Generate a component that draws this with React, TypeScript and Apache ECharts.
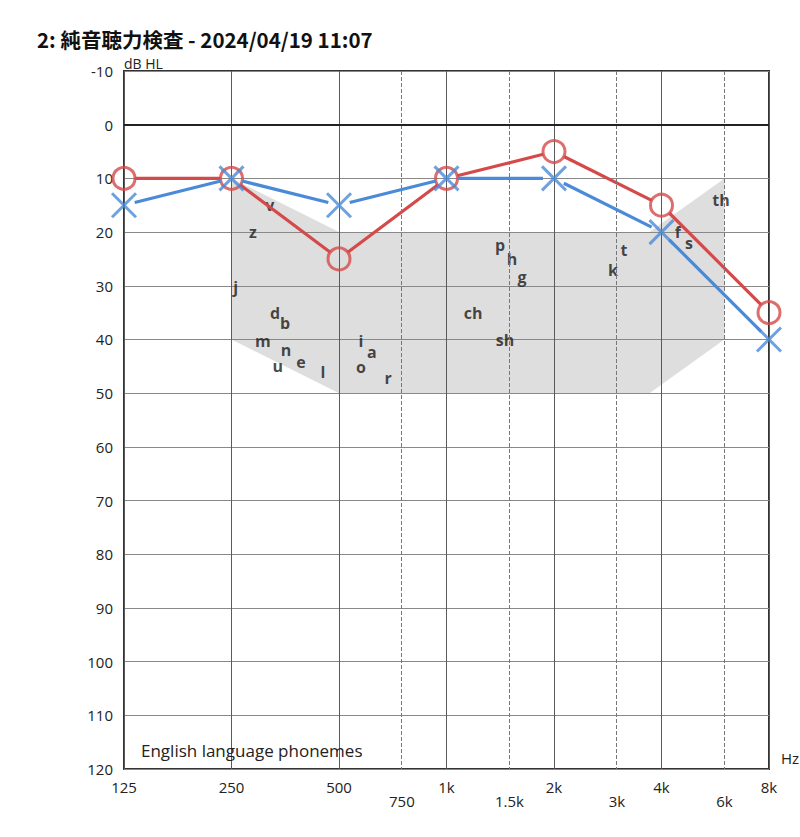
import React, { useEffect, useRef } from "react";
import * as echarts from "echarts";

const titleText = "2: 純音聴力検査 - 2024/04/19 11:07";
const freqs = [125, 250, 500, 1000, 2000, 4000, 8000];
const freqLabels = ["125", "250", "500", "1k", "2k", "4k", "8k"];
const midFreqs = [750, 1500, 3000, 6000];
const midLabels = ["750", "1.5k", "3k", "6k"];
const rightEar = [10, 10, 25, 10, 5, 15, 35];
const leftEar = [15, 10, 15, 10, 10, 20, 40];

const bananaFreqs = [250, 500, 3700, 6000, 6000, 3700, 500, 250];
const bananaDb = [10, 20, 20, 10, 40, 50, 50, 40];

const phonemes = ["v", "z", "j", "d", "b", "m", "n", "u", "e", "l", "i", "a", "o", "r", "ch", "p", "h", "g", "sh", "t", "k", "f", "s", "th"];
const phonemeFreqs = [320, 287, 257, 331, 353, 306, 355, 337, 391, 451, 576, 618, 576, 686, 1187, 1412, 1525, 1627, 1458, 3141, 2927, 4446, 4776, 5871];
const phonemeDb = [15, 20, 30.3, 35.1, 37, 40.3, 41.9, 45.0, 44.2, 46.1, 40.3, 42.4, 45.2, 47.2, 35.1, 22.4, 25.1, 28.4, 40.1, 23.4, 27.1, 20, 22, 14];

const RED = "#d44a4a";
const BLUE = "#4a8ad8";
const FONT = "'Open Sans', 'Noto Sans', sans-serif";

const lx = (f: number) => Math.log2(f / 125);

function segments(vals: number[]) {
  const out: number[][] = [];
  for (let i = 0; i < vals.length - 1; i++) {
    out.push([lx(freqs[i]), vals[i], lx(freqs[i + 1]), vals[i + 1]]);
  }
  return out;
}

function segRender(color: string, gap: number) {
  return (params: any, api: any) => {
    const p1 = api.coord([api.value(0), api.value(1)]);
    const p2 = api.coord([api.value(2), api.value(3)]);
    const dx = p2[0] - p1[0];
    const dy = p2[1] - p1[1];
    const len = Math.sqrt(dx * dx + dy * dy);
    const ux = dx / len;
    const uy = dy / len;
    return {
      type: "line",
      shape: {
        x1: p1[0] + ux * gap,
        y1: p1[1] + uy * gap,
        x2: p2[0] - ux * gap,
        y2: p2[1] - uy * gap,
      },
      style: { stroke: color, lineWidth: 3.2 },
    };
  };
}

export default function App() {
  const ref = useRef<HTMLDivElement>(null);
  useEffect(() => {
    if (!ref.current) return;
    const chart = echarts.init(ref.current, null, { renderer: "svg" });
    const labelMap: Record<string, string> = {};
    freqs.forEach((f, i) => (labelMap[lx(f).toFixed(3)] = freqLabels[i]));
    const midMap: Record<string, string> = {};
    midFreqs.forEach((f, i) => (midMap[lx(f).toFixed(3)] = midLabels[i]));

    chart.setOption({
      animation: false,
      backgroundColor: "#fff",
      title: {
        text: titleText,
        left: 37,
        top: 28,
        padding: 0,
        textStyle: { fontSize: 20.5, fontWeight: "bold", color: "#111", fontFamily: "'Noto Sans CJK JP', sans-serif", lineHeight: 21 },
      },
      graphic: [
        { type: "text", left: 124, top: 56, style: { text: "dB HL", fontSize: 14, fill: "#222", fontFamily: FONT } },
        { type: "text", left: 781, top: 750, style: { text: "Hz", fontSize: 15, fill: "#222", fontFamily: FONT } },
        { type: "text", left: 141, top: 742, z: 10, style: { text: "English language phonemes", fontSize: 17, fill: "#222", fontFamily: FONT } },
      ],
      grid: { left: 124, right: 31, top: 71, bottom: 68, show: true, borderColor: "#333", borderWidth: 2, backgroundColor: "transparent" },
      xAxis: [
        {
          type: "value",
          min: 0,
          max: 6,
          interval: 1,
          axisLine: { show: false },
          axisTick: { show: false },
          splitLine: { show: true, lineStyle: { color: "#5a5a5a", width: 1 } },
          axisLabel: {
            margin: 10,
            fontSize: 15,
            color: "#222",
            fontFamily: FONT,
            formatter: (v: number) => labelMap[v.toFixed(3)] ?? "",
          },
        },
        {
          type: "value",
          position: "bottom",
          min: 0,
          max: 6,
          axisLine: { show: false },
          axisTick: { show: false },
          splitLine: { show: false },
          axisLabel: {
            margin: 24,
            fontSize: 15,
            color: "#222",
            fontFamily: FONT,
            customValues: midFreqs.map(lx),
            formatter: (v: number) => midMap[v.toFixed(3)] ?? "",
          },
        },
      ],
      yAxis: {
        type: "value",
        inverse: true,
        min: -10,
        max: 120,
        interval: 10,
        axisLine: { show: false },
        axisTick: { show: false },
        splitLine: { show: true, lineStyle: { color: "#888", width: 1 } },
        axisLabel: { margin: 11, fontSize: 15, color: "#222", fontFamily: FONT },
      },
      series: [
        {
          type: "custom",
          z: -1,
          silent: true,
          data: [[0]],
          renderItem: (params: any, api: any) => ({
            type: "polygon",
            shape: { points: bananaFreqs.map((f, i) => api.coord([lx(f), bananaDb[i]])) },
            style: { fill: "#dedede" },
          }),
        },
        {
          type: "scatter",
          silent: true,
          z: 1,
          symbolSize: 0,
          data: [],
          markLine: {
            silent: true,
            symbol: "none",
            label: { show: false },
            data: [
              ...midFreqs.map((f) => ({ xAxis: lx(f), lineStyle: { color: "#777", type: "dashed", width: 1 } })),
              { yAxis: 0, lineStyle: { color: "#222", type: "solid", width: 2 } },
            ],
          },
        },
        {
          type: "scatter",
          silent: true,
          z: 2,
          symbolSize: 1,
          itemStyle: { color: "transparent" },
          label: {
            show: true,
            position: "inside",
            formatter: (p: any) => p.data.name,
            fontSize: 16,
            fontWeight: "bold",
            color: "#1a1a1a",
            fontFamily: FONT,
          },
          data: phonemes.map((n, i) => ({ name: n, value: [lx(phonemeFreqs[i]), phonemeDb[i]] })),
        },
        {
          type: "custom",
          z: 3,
          silent: true,
          data: segments(rightEar),
          renderItem: segRender(RED, 11),
        },
        {
          type: "scatter",
          z: 4,
          silent: true,
          symbol: "circle",
          symbolSize: 22,
          itemStyle: { color: "transparent", borderColor: RED, borderWidth: 3 },
          data: rightEar.map((v, i) => [lx(freqs[i]), v]),
        },
        {
          type: "custom",
          z: 5,
          silent: true,
          data: segments(leftEar),
          renderItem: segRender(BLUE, 11),
        },
        {
          type: "scatter",
          z: 6,
          silent: true,
          symbol: "path://M0,0L10,10M10,0L0,10",
          symbolSize: 24,
          itemStyle: { color: "none", borderColor: BLUE, borderWidth: 3 },
          data: leftEar.map((v, i) => [lx(freqs[i]), v]),
        },
      ],
    });
    return () => chart.dispose();
  }, []);
  return <div ref={ref} style={{ width: 800, height: 837, position: "absolute", left: 0, top: 0 }} />;
}
